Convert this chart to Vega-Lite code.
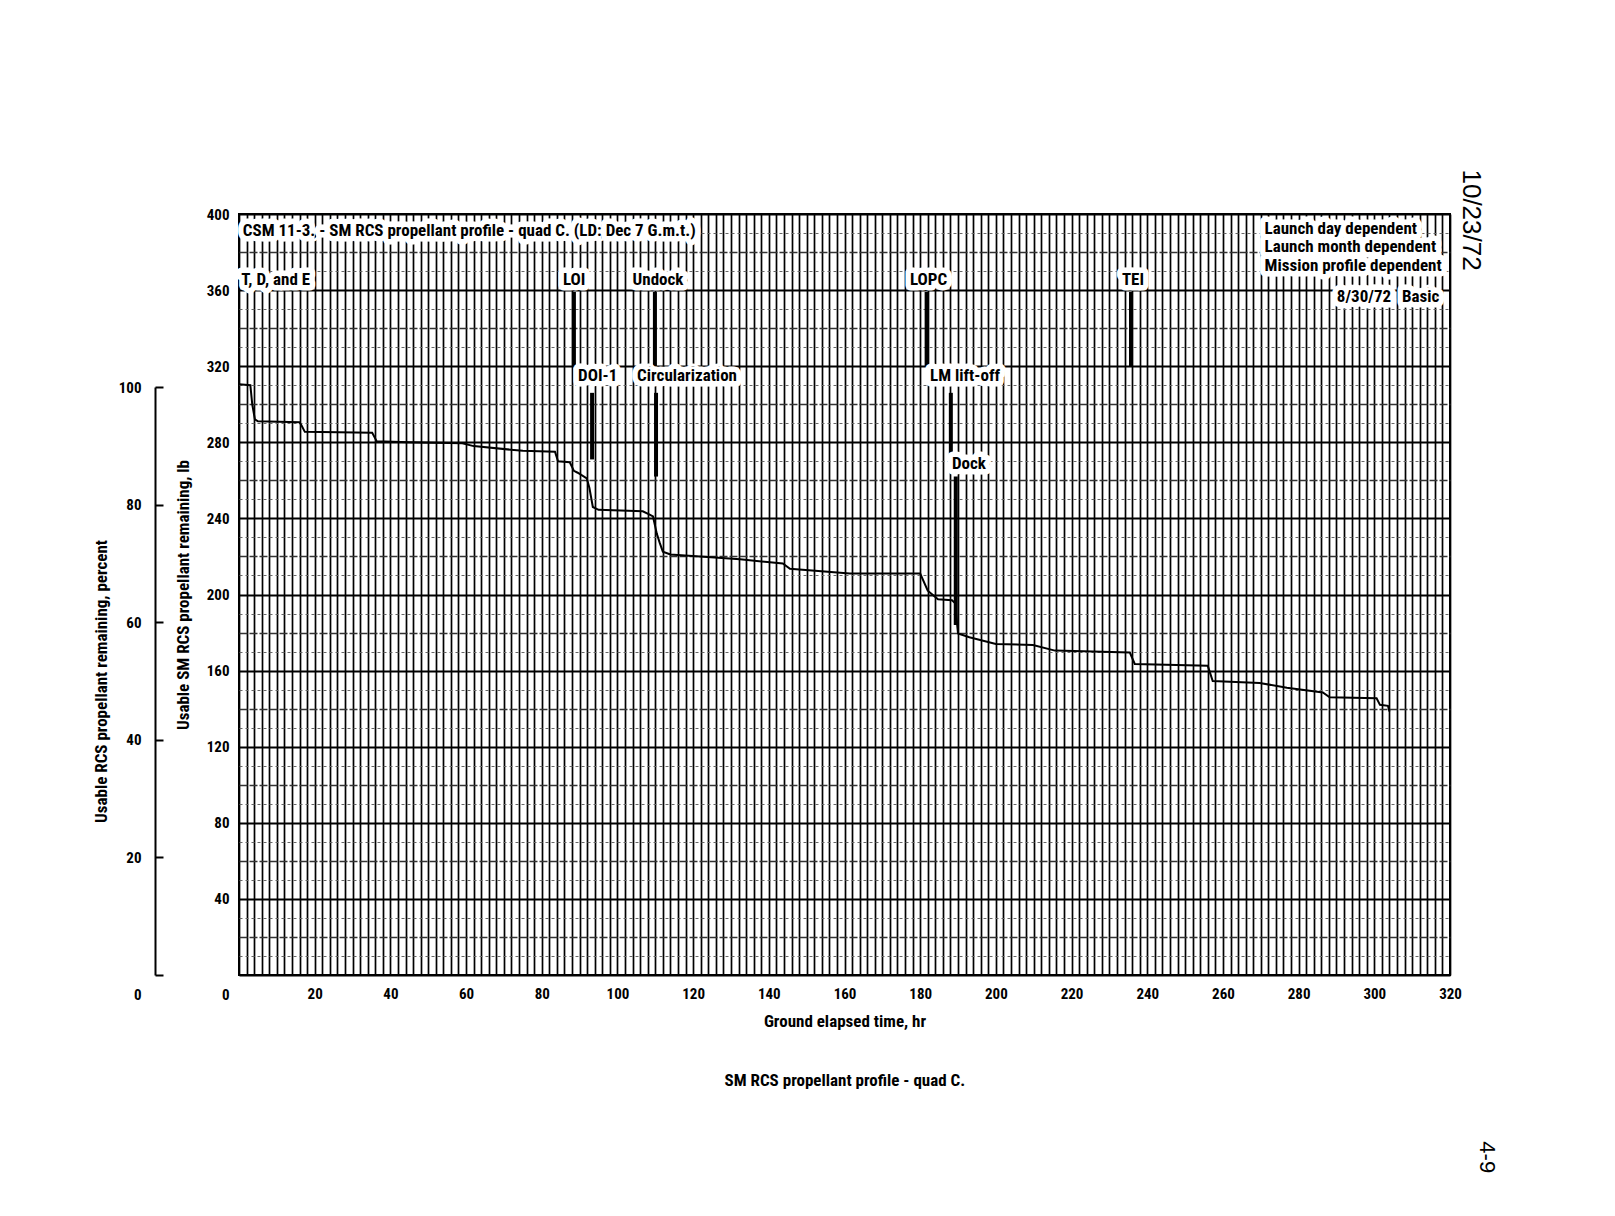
{
  "$schema": "https://vega.github.io/schema/vega-lite/v6.json",
  "width": 1211,
  "height": 761,
  "autosize": "none",
  "padding": {"left": 239, "top": 214, "right": 165, "bottom": 241},
  "background": "white",
  "config": {
    "font": "'Roboto Condensed', 'DejaVu Sans Condensed', 'Liberation Sans Narrow', 'Liberation Sans', sans-serif",
    "view": {"stroke": "black", "strokeWidth": 2},
    "axis": {"labelFont": "'Roboto Condensed', 'DejaVu Sans Condensed', 'Liberation Sans Narrow', 'Liberation Sans', sans-serif", "labelFontWeight": "bold", "labelFontSize": 15, "labelColor": "black", "titleFont": "'Roboto Condensed', 'DejaVu Sans Condensed', 'Liberation Sans Narrow', 'Liberation Sans', sans-serif", "titleFontWeight": "bold", "titleFontSize": 17, "titleColor": "black"}
  },
  "datasets": {
    "profile": [
      {"hr": 0, "lb": 310.5}, {"hr": 3.0, "lb": 310}, {"hr": 3.5, "lb": 300}, {"hr": 4.2, "lb": 292}, {"hr": 5, "lb": 291},
      {"hr": 16, "lb": 290.5}, {"hr": 16.5, "lb": 289}, {"hr": 17.4, "lb": 285.5}, {"hr": 35.2, "lb": 285}, {"hr": 36.4, "lb": 280.5},
      {"hr": 45, "lb": 280}, {"hr": 59, "lb": 279.5}, {"hr": 62, "lb": 278}, {"hr": 75, "lb": 275.5}, {"hr": 83.5, "lb": 275},
      {"hr": 84.3, "lb": 270}, {"hr": 87.4, "lb": 269.5}, {"hr": 88.5, "lb": 265}, {"hr": 89.5, "lb": 264}, {"hr": 91.9, "lb": 261},
      {"hr": 92.6, "lb": 256}, {"hr": 93.5, "lb": 246}, {"hr": 95, "lb": 244.5}, {"hr": 106.7, "lb": 243.7}, {"hr": 108.5, "lb": 242},
      {"hr": 109.4, "lb": 241}, {"hr": 110.4, "lb": 232}, {"hr": 111.2, "lb": 227}, {"hr": 112, "lb": 222.5}, {"hr": 114, "lb": 221},
      {"hr": 121.8, "lb": 220}, {"hr": 132.4, "lb": 218.5}, {"hr": 143.7, "lb": 216.3}, {"hr": 145.6, "lb": 213.5}, {"hr": 161.4, "lb": 211},
      {"hr": 180, "lb": 211}, {"hr": 182, "lb": 202}, {"hr": 184.7, "lb": 197.5}, {"hr": 188.4, "lb": 197}, {"hr": 189.2, "lb": 195.5},
      {"hr": 190, "lb": 179.5}, {"hr": 193, "lb": 177.5}, {"hr": 200, "lb": 174}, {"hr": 209.8, "lb": 173.5}, {"hr": 215.6, "lb": 170.5},
      {"hr": 235.4, "lb": 169.5}, {"hr": 236.7, "lb": 163.5}, {"hr": 256, "lb": 162.5}, {"hr": 257.3, "lb": 154.5}, {"hr": 269.7, "lb": 153.5},
      {"hr": 276.9, "lb": 151}, {"hr": 286.4, "lb": 148.5}, {"hr": 288.2, "lb": 146}, {"hr": 300.6, "lb": 145.5}, {"hr": 301.5, "lb": 142},
      {"hr": 303.6, "lb": 141.5}, {"hr": 304, "lb": 138.5}
    ],
    "markers": [
      {"event": "LOI", "hr": 88.5, "top": 359, "bottom": 320},
      {"event": "Undock", "hr": 109.9, "top": 359, "bottom": 320},
      {"event": "LOPC", "hr": 181.7, "top": 359, "bottom": 320},
      {"event": "TEI", "hr": 235.7, "top": 359, "bottom": 320},
      {"event": "DOI-1", "hr": 93.3, "top": 306, "bottom": 271},
      {"event": "Circularization", "hr": 110.2, "top": 306, "bottom": 262},
      {"event": "LM lift-off", "hr": 188.1, "top": 306, "bottom": 272},
      {"event": "Dock", "hr": 189.4, "top": 262, "bottom": 184}
    ],
    "labels": [
      {"hr": 1.0, "lb": 391.3, "text": "CSM 11-3. - SM RCS propellant profile - quad C. (LD: Dec 7 G.m.t.)"},
      {"hr": 0.6, "lb": 365.5, "text": "T, D, and E"},
      {"hr": 85.6, "lb": 365.5, "text": "LOI"},
      {"hr": 104.0, "lb": 365.5, "text": "Undock"},
      {"hr": 177.3, "lb": 365.5, "text": "LOPC"},
      {"hr": 233.3, "lb": 365.5, "text": "TEI"},
      {"hr": 89.6, "lb": 314.7, "text": "DOI-1"},
      {"hr": 105.2, "lb": 314.7, "text": "Circularization"},
      {"hr": 182.6, "lb": 314.7, "text": "LM lift-off"},
      {"hr": 188.4, "lb": 268.4, "text": "Dock"},
      {"hr": 271.0, "lb": 392.1, "text": "Launch day dependent"},
      {"hr": 271.0, "lb": 382.6, "text": "Launch month dependent"},
      {"hr": 271.0, "lb": 372.6, "text": "Mission profile dependent"},
      {"hr": 290.1, "lb": 356.3, "text": "8/30/72"},
      {"hr": 307.3, "lb": 356.3, "text": "Basic"}
    ],
    "percent": [{"pct": 0}, {"pct": 100}]
  },
  "encoding": {
    "x": {
      "field": "hr", "type": "quantitative",
      "scale": {"domain": [0, 320], "nice": false, "zero": false},
      "axis": {
        "values": [0,2,4,6,8,10,12,14,16,18,20,22,24,26,28,30,32,34,36,38,40,42,44,46,48,50,52,54,56,58,60,62,64,66,68,70,72,74,76,78,80,82,84,86,88,90,92,94,96,98,100,102,104,106,108,110,112,114,116,118,120,122,124,126,128,130,132,134,136,138,140,142,144,146,148,150,152,154,156,158,160,162,164,166,168,170,172,174,176,178,180,182,184,186,188,190,192,194,196,198,200,202,204,206,208,210,212,214,216,218,220,222,224,226,228,230,232,234,236,238,240,242,244,246,248,250,252,254,256,258,260,262,264,266,268,270,272,274,276,278,280,282,284,286,288,290,292,294,296,298,300,302,304,306,308,310,312,314,316,318,320],
        "grid": true, "gridColor": "black", "gridOpacity": 1, "gridWidth": 1.7,
        "ticks": false, "domain": false,
        "labelExpr": "datum.value % 20 == 0 && datum.value > 0 ? datum.label : ''",
        "labelPadding": 11, "labelFlush": false, "labelOverlap": false,
        "title": "Ground elapsed time, hr", "titlePadding": 12
      }
    }
  },
  "layer": [
    {
      "data": {"name": "profile"},
      "mark": {"type": "line", "color": "black", "strokeWidth": 2},
      "encoding": {
        "y": {
          "field": "lb", "type": "quantitative",
          "scale": {"domain": [0, 400], "nice": false, "zero": false},
          "axis": {
            "values": [0,10,20,30,40,50,60,70,80,90,100,110,120,130,140,150,160,170,180,190,200,210,220,230,240,250,260,270,280,290,300,310,320,330,340,350,360,370,380,390,400],
            "grid": true, "gridOpacity": 1,
            "gridColor": {"expr": "datum.value % 40 == 0 ? 'black' : (datum.value % 20 == 0 ? '#333333' : '#666666')"},
            "gridWidth": {"expr": "datum.value % 40 == 0 ? 2 : (datum.value % 20 == 0 ? 1.4 : 1)"},
            "gridDash": {"expr": "datum.value % 40 == 0 ? [] : (datum.value % 20 == 0 ? [8, 2] : [3, 3])"},
            "ticks": false, "domain": false,
            "labelExpr": "datum.value % 40 == 0 ? datum.label : ''",
            "labelOffset": {"condition": {"test": "datum.value == 0", "value": 19}, "value": 0},
            "labelPadding": 10, "labelOverlap": false, "labelFlush": false,
            "title": "Usable SM RCS propellant remaining, lb", "titlePadding": 14
          }
        }
      }
    },
    {
      "data": {"name": "markers"},
      "mark": {"type": "rule", "color": "black", "strokeWidth": 4},
      "encoding": {
        "y": {"field": "top", "type": "quantitative", "scale": {"domain": [0, 400], "nice": false, "zero": false}, "axis": null},
        "y2": {"field": "bottom"}
      }
    },
    {
      "data": {"name": "labels"},
      "mark": {"type": "text", "align": "left", "baseline": "middle", "fontSize": 17, "fontWeight": "bold", "fill": "white", "stroke": "white", "strokeWidth": 11, "strokeJoin": "round"},
      "encoding": {
        "y": {"field": "lb", "type": "quantitative", "scale": {"domain": [0, 400], "nice": false, "zero": false}, "axis": null},
        "text": {"field": "text"}
      }
    },
    {
      "data": {"name": "labels"},
      "mark": {"type": "text", "align": "left", "baseline": "middle", "fontSize": 17, "fontWeight": "bold", "color": "black"},
      "encoding": {
        "y": {"field": "lb", "type": "quantitative", "scale": {"domain": [0, 400], "nice": false, "zero": false}, "axis": null},
        "text": {"field": "text"}
      }
    },
    {
      "data": {"values": [{"hr": 160.1, "lb": -55.8, "text": "SM RCS propellant profile - quad C."}]},
      "mark": {"type": "text", "align": "center", "baseline": "middle", "fontSize": 17, "fontWeight": "bold", "color": "black"},
      "encoding": {
        "y": {"field": "lb", "type": "quantitative", "scale": {"domain": [0, 400], "nice": false, "zero": false}, "axis": null},
        "text": {"field": "text"}
      }
    },
    {
      "data": {"values": [{"hr": 325.5, "lb": 396.8, "text": "10/23/72"}]},
      "mark": {"type": "text", "align": "center", "baseline": "middle", "angle": 90, "fontSize": 26, "font": "Liberation Sans", "color": "black"},
      "encoding": {
        "y": {"field": "lb", "type": "quantitative", "scale": {"domain": [0, 400], "nice": false, "zero": false}, "axis": null},
        "text": {"field": "text"}
      }
    },
    {
      "data": {"values": [{"hr": 329.7, "lb": -95.8, "text": "4-9"}]},
      "mark": {"type": "text", "align": "center", "baseline": "middle", "angle": 90, "fontSize": 22, "font": "Liberation Sans", "color": "black"},
      "encoding": {
        "y": {"field": "lb", "type": "quantitative", "scale": {"domain": [0, 400], "nice": false, "zero": false}, "axis": null},
        "text": {"field": "text"}
      }
    },
    {
      "data": {"name": "percent"},
      "mark": {"type": "point", "opacity": 0},
      "encoding": {
        "y": {
          "field": "pct", "type": "quantitative",
          "scale": {"domain": [0, 100], "range": [761, 173], "nice": false},
          "axis": {
            "orient": "left", "offset": 84,
            "values": [0, 20, 40, 60, 80, 100],
            "grid": false, "domain": true, "domainColor": "black", "domainWidth": 2,
            "ticks": true, "tickSize": -8, "tickColor": "black", "tickWidth": 2,
            "labelPadding": 22,
            "labelOffset": {"condition": {"test": "datum.value == 0", "value": 19}, "value": 0},
            "labelOverlap": false, "labelFlush": false,
            "title": "Usable RCS propellant remaining, percent", "titlePadding": 8
          }
        }
      }
    }
  ],
  "resolve": {"scale": {"y": "independent"}, "axis": {"y": "independent"}}
}
